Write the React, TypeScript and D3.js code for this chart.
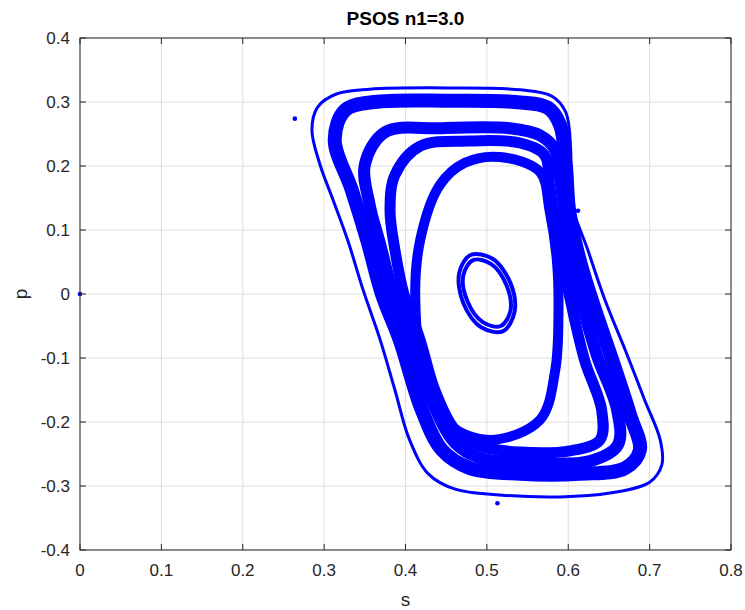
import React from "react";
import * as d3 from "d3";

const sTicks = [0, 0.1, 0.2, 0.3, 0.4, 0.5, 0.6, 0.7, 0.8];
const pTicks = [-0.4, -0.3, -0.2, -0.1, 0, 0.1, 0.2, 0.3, 0.4];

// isolated section points [s, p]
const isolated: [number, number][] = [
  [0.0, 0.0],
  [0.264, 0.274],
  [0.612, 0.13],
  [0.513, -0.327],
];

// orbits, each a closed loop of section points [s, p]
const orbitOuter: [number, number][] = [
  [0.285, 0.256], [0.292, 0.292], [0.315, 0.3125], [0.356, 0.32], [0.455, 0.322],
  [0.541, 0.319], [0.58, 0.309], [0.597, 0.284], [0.603, 0.225], [0.603, 0.147],
  [0.624, 0.069], [0.645, -0.009], [0.67, -0.0875], [0.694, -0.166], [0.713, -0.228],
  [0.715, -0.267], [0.7, -0.294], [0.651, -0.311], [0.59, -0.317], [0.516, -0.314],
  [0.461, -0.305], [0.428, -0.281], [0.405, -0.228], [0.387, -0.15], [0.369, -0.072],
  [0.348, 0.006], [0.329, 0.084], [0.311, 0.147], [0.295, 0.202],
];
const orbitIsland: [number, number][] = [
  [0.313, 0.241], [0.326, 0.2875], [0.362, 0.3], [0.455, 0.302], [0.534, 0.3],
  [0.575, 0.291], [0.59, 0.264], [0.597, 0.202], [0.601, 0.131], [0.614, 0.053],
  [0.633, -0.025], [0.654, -0.103], [0.676, -0.189], [0.688, -0.244], [0.67, -0.272],
  [0.614, -0.281], [0.541, -0.281], [0.479, -0.272], [0.445, -0.244], [0.42, -0.181],
  [0.393, -0.072], [0.371, 0.0], [0.353, 0.084], [0.334, 0.1625],
];
const orbitBandA: [number, number][] = [
  [0.35, 0.202], [0.375, 0.253], [0.442, 0.259], [0.528, 0.259], [0.565, 0.248],
  [0.584, 0.225], [0.591, 0.17], [0.6, 0.084], [0.614, 0.0], [0.635, -0.095],
  [0.66, -0.181], [0.661, -0.236], [0.627, -0.261], [0.553, -0.264], [0.491, -0.256],
  [0.461, -0.233], [0.432, -0.166], [0.41, -0.08], [0.385, 0.0], [0.369, 0.077],
  [0.356, 0.139],
];
const orbitBandB: [number, number][] = [
  [0.387, 0.186], [0.418, 0.231], [0.479, 0.239], [0.541, 0.236], [0.571, 0.217],
  [0.577, 0.17], [0.585, 0.1], [0.601, 0.0], [0.62, -0.103], [0.641, -0.181],
  [0.639, -0.228], [0.602, -0.245], [0.541, -0.247], [0.491, -0.2375], [0.461, -0.2125],
  [0.436, -0.15], [0.418, -0.072], [0.398, 0.0], [0.387, 0.069], [0.381, 0.131],
];
const orbitInner: [number, number][] = [
  [0.516, 0.214], [0.565, 0.191], [0.577, 0.131], [0.586, 0.053], [0.588, -0.025],
  [0.584, -0.119], [0.565, -0.197], [0.504, -0.228], [0.455, -0.205], [0.424, -0.134],
  [0.412, -0.009], [0.418, 0.084], [0.442, 0.17], [0.473, 0.205],
];
const orbitCoreA: [number, number][] = [
  [0.52, -0.058], [0.534, -0.028], [0.529, 0.017], [0.507, 0.055],
  [0.48, 0.061], [0.466, 0.033], [0.471, -0.014], [0.493, -0.052],
];
const orbitCoreB: [number, number][] = [
  [0.517, -0.05], [0.529, -0.026], [0.524, 0.014], [0.505, 0.047],
  [0.483, 0.053], [0.471, 0.029], [0.476, -0.011], [0.495, -0.044],
];

const orbits = [orbitOuter, orbitIsland, orbitBandA, orbitBandB, orbitInner, orbitCoreA, orbitCoreB];
const orbitWidths = [3, 14, 12, 11, 10, 4, 4];

const W = 745;
const H = 610;
const L = 80, R = 731, T = 38, B = 550;

export default function App() {
  const x = d3.scaleLinear().domain([0, 0.8]).range([L, R]);
  const y = d3.scaleLinear().domain([-0.4, 0.4]).range([B, T]);
  const line = d3
    .line<[number, number]>()
    .x((d) => x(d[0]))
    .y((d) => y(d[1]))
    .curve(d3.curveCatmullRomClosed.alpha(0.5));
  const axisColor = "#262626";
  const font = "'Liberation Sans', Arial, sans-serif";
  return (
    <svg
      width={W}
      height={H}
      style={{ position: "absolute", left: 0, top: 0, background: "#fff" }}
    >
      <rect x={0} y={0} width={W} height={H} fill="#fff" />
      <rect x={L} y={T} width={R - L} height={B - T} fill="#fff" />
      {sTicks.map((t) => (
        <line key={"gx" + t} x1={x(t)} x2={x(t)} y1={T} y2={B} stroke="#dfdfdf" strokeWidth={1} />
      ))}
      {pTicks.map((t) => (
        <line key={"gy" + t} x1={L} x2={R} y1={y(t)} y2={y(t)} stroke="#dfdfdf" strokeWidth={1} />
      ))}
      <defs>
        <clipPath id="plotclip">
          <rect x={L} y={T} width={R - L} height={B - T} />
        </clipPath>
      </defs>
      <g clipPath="url(#plotclip)">
        {orbits.map((o, i) => (
          <path
            key={"o" + i}
            d={line(o) || ""}
            fill="none"
            stroke="#0000ff"
            strokeWidth={orbitWidths[i]}
            strokeLinejoin="round"
          />
        ))}
      </g>
      {isolated.map((d, i) => (
        <circle key={"d" + i} cx={x(d[0])} cy={y(d[1])} r={2.3} fill="#0000ff" />
      ))}
      <rect x={L} y={T} width={R - L} height={B - T} fill="none" stroke={axisColor} strokeWidth={1} />
      {sTicks.map((t) => (
        <g key={"tx" + t}>
          <line x1={x(t)} x2={x(t)} y1={B} y2={B - 6} stroke={axisColor} />
          <line x1={x(t)} x2={x(t)} y1={T} y2={T + 6} stroke={axisColor} />
          <text x={x(t)} y={B + 26} textAnchor="middle" fontFamily={font} fontSize={17} fill={axisColor}>
            {t === 0 ? "0" : t.toFixed(1)}
          </text>
        </g>
      ))}
      {pTicks.map((t) => (
        <g key={"ty" + t}>
          <line x1={L} x2={L + 6} y1={y(t)} y2={y(t)} stroke={axisColor} />
          <line x1={R} x2={R - 6} y1={y(t)} y2={y(t)} stroke={axisColor} />
          <text x={L - 10} y={y(t)} dy="0.35em" textAnchor="end" fontFamily={font} fontSize={17} fill={axisColor}>
            {t === 0 ? "0" : t.toFixed(1)}
          </text>
        </g>
      ))}
      <text x={(L + R) / 2} y={25} textAnchor="middle" fontFamily={font} fontSize={19} fontWeight="bold" fill="#000">
        PSOS n1=3.0
      </text>
      <text x={(L + R) / 2} y={606} textAnchor="middle" fontFamily={font} fontSize={19} fill={axisColor}>
        s
      </text>
      <text
        transform={`translate(27, ${(T + B) / 2}) rotate(-90)`}
        textAnchor="middle"
        fontFamily={font}
        fontSize={19}
        fill={axisColor}
      >
        p
      </text>
    </svg>
  );
}
